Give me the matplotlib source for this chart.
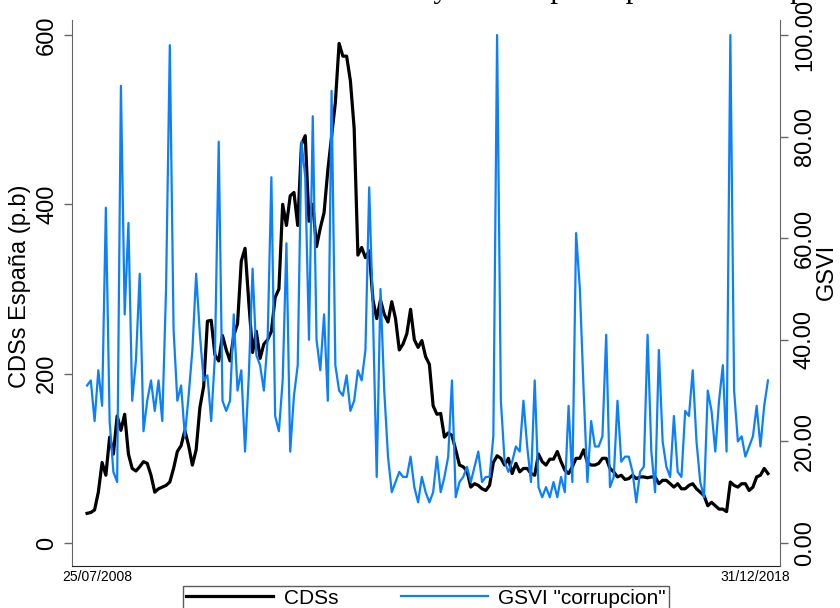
import numpy as np
import pandas as pd
import matplotlib
matplotlib.use('Agg')
import matplotlib.pyplot as plt
from matplotlib.lines import Line2D

# CDS Spain (basis points), sampled every 3 weeks
cds = [35, 36, 39, 60, 95, 80, 125, 105, 150, 133,
       152, 105, 88, 85, 90, 96, 94, 80, 60, 64,
       66, 68, 72, 88, 108, 115, 133, 115, 92, 110,
       160, 185, 262, 263, 222, 215, 245, 228, 215, 245,
       259, 333, 348, 284, 225, 250, 218, 235, 240, 250,
       290, 300, 400, 375, 410, 414, 375, 471, 481, 380,
       400, 350, 372, 390, 440, 480, 520, 590, 575, 575,
       546, 490, 340, 349, 337, 345, 287, 265, 287, 270,
       261, 285, 265, 228, 235, 247, 276, 240, 231, 239,
       220, 211, 162, 152, 153, 125, 130, 127, 110, 92,
       90, 85, 66, 70, 68, 64, 62, 68, 95, 103,
       100, 92, 100, 82, 94, 84, 88, 88, 82, 80,
       105, 96, 92, 99, 99, 108, 96, 86, 82, 90,
       100, 100, 110, 95, 92, 92, 94, 100, 100, 88,
       84, 78, 80, 75, 76, 80, 76, 78, 78, 77,
       78, 78, 70, 74, 74, 70, 66, 70, 64, 64,
       68, 70, 64, 60, 56, 44, 48, 44, 40, 40,
       37, 72, 68, 66, 70, 70, 62, 66, 78, 80,
       88, 82]

# Google search volume index for "corrupcion"
gsvi = [31, 32, 24, 34, 27, 66, 24, 14, 12, 90,
        45, 63, 28, 36, 53, 22, 28, 32, 26, 32,
        24, 50, 98, 42, 28, 31, 21, 29, 38, 53,
        41, 32, 33, 24, 37, 79, 28, 26, 28, 45,
        30, 34, 18, 33, 54, 37, 35, 30, 40, 72,
        25, 22, 32, 59, 18, 29, 35, 79, 72, 40,
        84, 40, 34, 45, 28, 89, 35, 30, 29, 33,
        26, 28, 34, 32, 38, 70, 45, 13, 50, 30,
        17, 10, 12, 14, 13, 13, 17, 11, 8, 13,
        10, 8, 10, 17, 10, 13, 17, 32, 9, 12,
        13, 15, 12, 15, 18, 12, 13, 13, 21, 100,
        28, 16, 14, 16, 19, 18, 28, 19, 12, 32,
        11, 9, 11, 9, 12, 9, 13, 10, 27, 12,
        61, 50, 30, 12, 24, 19, 19, 21, 41, 11,
        13, 28, 16, 17, 17, 14, 8, 14, 15, 41,
        18, 10, 38, 20, 15, 13, 25, 14, 13, 26,
        25, 34, 20, 12, 9, 30, 26, 18, 28, 35,
        18, 100, 30, 20, 21, 17, 19, 21, 27, 19,
        27, 32]

cds_ticks = [0, 200, 400, 600]
gsvi_ticks = [0, 20, 40, 60, 80, 100]
date_labels = ['25/07/2008', '31/12/2018']

dates = pd.date_range('2008-07-25', '2018-12-31', periods=len(cds))
step = dates[1] - dates[0]

blue = '#0A80FF'
narrow = ['Liberation Sans Narrow', 'Liberation Sans', 'DejaVu Sans']
plt.rcParams['font.family'] = ['Liberation Sans', 'DejaVu Sans']

fig = plt.figure(figsize=(8.4, 6.08), dpi=100)
ax = fig.add_axes([72 / 840, 42 / 608, 708 / 840, 546 / 608])
ax2 = ax.twinx()

ax.plot(dates, cds, color='black', lw=2.3, solid_joinstyle='round')
ax2.plot(dates, gsvi, color=blue, lw=1.6, solid_joinstyle='round')

ax.set_xlim(dates[0] - step * 4.0, dates[-1] + step * 3.2)
ax.set_ylim(-27.2, 617.7)
ax2.set_ylim(-4.53, 102.95)

ax.set_yticks(cds_ticks)
ax2.set_yticks(gsvi_ticks)
ax2.set_yticklabels(['%.2f' % v for v in gsvi_ticks])
ax.set_xticks([])

for a in (ax, ax2):
    a.spines['top'].set_visible(False)
    a.tick_params(axis='y', length=6, width=1, color='#666666', labelsize=17, pad=4)
ax.spines['left'].set_color('#666666')
ax2.spines['right'].set_color('#666666')
ax.spines['bottom'].set_color('#222222')
ax2.spines['bottom'].set_visible(False)
ax2.spines['left'].set_visible(False)
ax.spines['right'].set_visible(False)

for lab in ax.get_yticklabels():
    lab.set_rotation(90)
    lab.set_va('center')
for lab in ax2.get_yticklabels():
    lab.set_rotation(90)
    lab.set_va('center')

ax.set_ylabel('CDSs España (p.b)', fontsize=17)
ax.yaxis.set_label_coords(-0.058, 0.513)
ax2.set_ylabel('GSVI', fontsize=17)
ax2.yaxis.set_label_coords(1.051, 0.538)

fig.text(97 / 840, 1 - 577 / 608, date_labels[0], fontsize=10, family=narrow,
         ha='center', va='center')
fig.text(755 / 840, 1 - 577 / 608, date_labels[1], fontsize=10, family=narrow,
         ha='center', va='center')

# title, mostly cut off at the top of the image
fig.text(142 / 840, 1 + 3 / 608,
         'Evolución de los CDSs y la corrupción pública en España',
         fontsize=22, family=['Liberation Serif', 'DejaVu Serif'],
         ha='left', va='baseline')

handles = [Line2D([], [], color='black', lw=2.3),
           Line2D([], [], color=blue, lw=1.6)]
leg = fig.legend(handles, ['CDSs', 'GSVI "corrupcion"'], loc='upper center',
                 bbox_to_anchor=(0.507, 22 / 608), borderaxespad=0, ncol=2,
                 frameon=True, fancybox=False, edgecolor='#333333',
                 handlelength=4.2, handletextpad=0.5, columnspacing=3.0,
                 borderpad=0.12, prop={'family': narrow, 'size': 15})
leg.get_frame().set_linewidth(1.0)

fig.savefig('out.png', dpi=100)
